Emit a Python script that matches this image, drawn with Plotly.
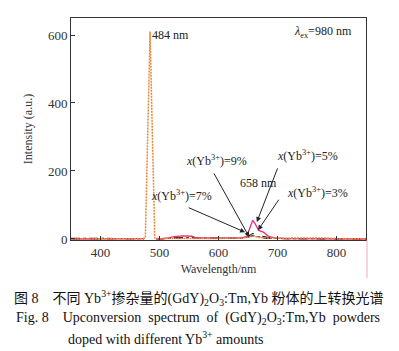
import plotly.graph_objects as go

# Data (the 484 nm band of the other samples is hidden
# behind the 9% curve in the picture, so it is left as a gap)
wl_9 = [350, 400, 470, 476, 480, 484, 488, 492, 498, 520, 560, 600, 640, 650, 660, 670, 700, 740, 760, 780, 800, 850]
in_9 = [0, 0, 1, 3, 300, 610, 300, 3, 1, 1, 1, 1, 2, 6, 8, 4, 2, 3, 4, 3, 1, 1]

wl_5 = [350, 470, 474, 484, 494, 500, 515, 525, 540, 555, 562, 600, 640, 648, 654, 658, 662, 668, 676, 685, 695, 710, 850]
in_5 = [0, 0, 1, None, 1, 0, 3, 7, 9, 8, 3, 2, 3, 8, 35, 55, 45, 25, 20, 8, 3, 1, 0]

wl_3 = [350, 470, 474, 484, 494, 500, 520, 540, 555, 565, 600, 640, 650, 658, 665, 675, 690, 720, 850]
in_3 = [0, 0, 1, None, 1, 0, 3, 5, 5, 2, 1, 2, 8, 16, 14, 8, 2, 1, 0]

wl_7 = [350, 400, 470, 474, 484, 494, 500, 520, 540, 555, 565, 600, 640, 650, 658, 666, 680, 720, 760, 800, 850]
in_7 = [2, 1, 0, 1, None, 1, 0, 2, 4, 4, 2, 1, 2, 5, 10, 7, 2, 1, 1, 1, 1]

x_ticks = [400, 500, 600, 700, 800]
y_ticks = [0, 200, 400, 600]

SERIF = "Liberation Serif, Times New Roman, serif"

fig = go.Figure()
fig.add_trace(go.Scatter(x=wl_7, y=in_7, mode="lines", connectgaps=False,
                         line=dict(color="#333333", width=1.2, dash="dashdot")))
fig.add_trace(go.Scatter(x=wl_3, y=in_3, mode="lines", connectgaps=False,
                         line=dict(color="#222222", width=1.2, dash="dash")))
fig.add_trace(go.Scatter(x=wl_5, y=in_5, mode="lines", connectgaps=False,
                         line=dict(color="#ec2d7a", width=1.3)))
fig.add_trace(go.Scatter(x=wl_9, y=in_9, mode="lines",
                         line=dict(color="#e8873a", width=1.5, dash="2px,1px")))

axis_common = dict(showline=True, linecolor="#333333", linewidth=1, mirror=True,
                   ticks="inside", ticklen=4, tickcolor="#333333",
                   showgrid=False, zeroline=False,
                   tickfont=dict(family=SERIF, size=13, color="#333333"))

fig.update_xaxes(range=[350, 850], tickvals=x_ticks,
                 title=dict(text="Wavelength/nm", font=dict(family=SERIF, size=12, color="#333333"), standoff=6),
                 **axis_common)
fig.update_yaxes(range=[-3, 650], tickvals=y_ticks,
                 title=dict(text="Intensity (a.u.)", font=dict(family=SERIF, size=12, color="#333333"), standoff=12),
                 **axis_common)

af = dict(family=SERIF, size=12, color="#222222")

def label(x, y, text, **kw):
    fig.add_annotation(x=x, y=y, xref="x", yref="y", text=text, showarrow=False,
                       font=af, **kw)

def arrow(x0, y0, x1, y1):
    fig.add_annotation(x=x1, y=y1, ax=x0, ay=y0, xref="x", yref="y", axref="x", ayref="y",
                       text="", showarrow=True, arrowhead=2, arrowsize=1, arrowwidth=1,
                       arrowcolor="#222222")

label(518, 600, "484 nm")
label(777, 610, "<i>λ</i><sub>ex</sub>=980 nm")
label(596, 232, "<i>x</i>(Yb<sup>3+</sup>)=9%")
label(750, 247, "<i>x</i>(Yb<sup>3+</sup>)=5%")
label(668, 166, "658 nm")
label(767, 138, "<i>x</i>(Yb<sup>3+</sup>)=3%")
label(538, 129, "<i>x</i>(Yb<sup>3+</sup>)=7%")

arrow(591, 197, 652, 6)
arrow(701, 212, 665, 50)
arrow(704, 120, 667, 26)
arrow(547, 94, 645, 20)

cf = dict(family="Liberation Serif, Noto Sans CJK SC, serif", size=14, color="#111111")
fig.add_annotation(x=199, y=298, xref="paper", yref="paper", showarrow=False, font=cf,
                   text="图 8　不同 Yb<sup>3+</sup>掺杂量的(GdY)<sub>2</sub>O<sub>3</sub>:Tm,Yb 粉体的上转换光谱")
fig.add_annotation(x=198, y=318, showarrow=False, font=cf,
                   text="Fig. 8    Upconversion  spectrum  of  (GdY)<sub>2</sub>O<sub>3</sub>:Tm,Yb  powders")
fig.add_annotation(x=66, y=338, showarrow=False, font=cf, xanchor="left",
                   text="doped with different Yb<sup>3+</sup> amounts")

# convert pixel placement for caption annotations to paper coordinates
W, H = 399, 351
L, R, T, B = 71, 33, 18, 111
pw, ph = W - L - R, H - T - B
for a in fig.layout.annotations[-3:]:
    px, py = a.x, a.y
    a.xref = "paper"
    a.yref = "paper"
    a.x = (px - L) / pw
    a.y = (H - B - py) / ph
    a.yanchor = "middle"

fig.add_shape(type="line", xref="paper", yref="paper",
              x0=(367 - L) / pw, x1=(367 - L) / pw,
              y0=(H - B - 240) / ph, y1=(H - B - 278) / ph,
              line=dict(color="#f4a6c8", width=1))

fig.update_layout(width=W, height=H, margin=dict(l=L, r=R, t=T, b=B),
                  paper_bgcolor="white", plot_bgcolor="white", showlegend=False)

fig.write_html("out.html")
